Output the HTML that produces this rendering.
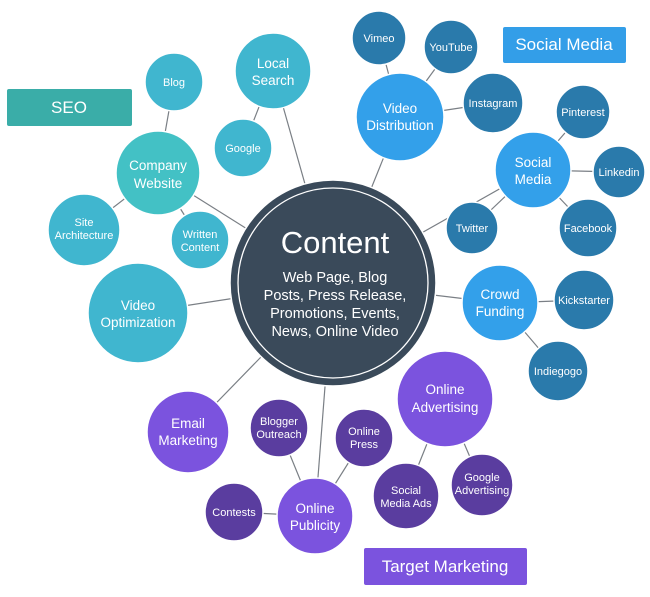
<!DOCTYPE html>
<html><head><style>
body{margin:0;background:#fff}
svg text{font-family:"Liberation Sans",sans-serif;fill:#fff;text-anchor:middle}
</style></head><body>
<svg width="650" height="592" viewBox="0 0 650 592" xmlns="http://www.w3.org/2000/svg">
<g stroke="#7a7f85" stroke-width="1.2">
<line x1="333" y1="283" x2="273" y2="71"/>
<line x1="174" y1="82" x2="158" y2="173"/>
<line x1="243" y1="148" x2="273" y2="71"/>
<line x1="158" y1="173" x2="333" y2="283"/>
<line x1="84" y1="230" x2="158" y2="173"/>
<line x1="200" y1="240" x2="158" y2="173"/>
<line x1="138" y1="313" x2="333" y2="283"/>
<line x1="379" y1="38" x2="400" y2="117"/>
<line x1="451" y1="47" x2="400" y2="117"/>
<line x1="493" y1="103" x2="400" y2="117"/>
<line x1="400" y1="117" x2="333" y2="283"/>
<line x1="583" y1="112" x2="533" y2="170"/>
<line x1="619" y1="172" x2="533" y2="170"/>
<line x1="588" y1="228" x2="533" y2="170"/>
<line x1="472" y1="228" x2="533" y2="170"/>
<line x1="533" y1="170" x2="333" y2="283"/>
<line x1="500" y1="303" x2="333" y2="283"/>
<line x1="584" y1="300" x2="500" y2="303"/>
<line x1="558" y1="371" x2="500" y2="303"/>
<line x1="188" y1="432" x2="333" y2="283"/>
<line x1="315" y1="516" x2="333" y2="283"/>
<line x1="279" y1="428" x2="315" y2="516"/>
<line x1="364" y1="438" x2="315" y2="516"/>
<line x1="234" y1="512" x2="315" y2="516"/>
<line x1="406" y1="496" x2="445" y2="399"/>
<line x1="482" y1="485" x2="445" y2="399"/>
</g>
<g stroke="#fff" stroke-width="1.5">
<circle cx="333" cy="283" r="103" fill="#3a4a5a"/>
<circle cx="333" cy="283" r="95" fill="none" stroke-width="1.3"/>
<circle cx="273" cy="71" r="38" fill="#40b6cf"/>
<circle cx="174" cy="82" r="29" fill="#40b6cf"/>
<circle cx="243" cy="148" r="29" fill="#40b6cf"/>
<circle cx="158" cy="173" r="42" fill="#43c1c5"/>
<circle cx="84" cy="230" r="36" fill="#40b6cf"/>
<circle cx="200" cy="240" r="29" fill="#40b6cf"/>
<circle cx="138" cy="313" r="50" fill="#40b6cf"/>
<circle cx="379" cy="38" r="27" fill="#2a7aab"/>
<circle cx="451" cy="47" r="27" fill="#2a7aab"/>
<circle cx="400" cy="117" r="44" fill="#33a0ea"/>
<circle cx="493" cy="103" r="30" fill="#2a7aab"/>
<circle cx="583" cy="112" r="27" fill="#2a7aab"/>
<circle cx="533" cy="170" r="38" fill="#33a0ea"/>
<circle cx="619" cy="172" r="26" fill="#2a7aab"/>
<circle cx="472" cy="228" r="26" fill="#2a7aab"/>
<circle cx="588" cy="228" r="29" fill="#2a7aab"/>
<circle cx="500" cy="303" r="38" fill="#33a0ea"/>
<circle cx="584" cy="300" r="30" fill="#2a7aab"/>
<circle cx="558" cy="371" r="30" fill="#2a7aab"/>
<circle cx="188" cy="432" r="41" fill="#7b53de"/>
<circle cx="279" cy="428" r="29" fill="#5a3d9f"/>
<circle cx="364" cy="438" r="29" fill="#5a3d9f"/>
<circle cx="445" cy="399" r="48" fill="#7b53de"/>
<circle cx="234" cy="512" r="29" fill="#5a3d9f"/>
<circle cx="315" cy="516" r="38" fill="#7b53de"/>
<circle cx="406" cy="496" r="33" fill="#5a3d9f"/>
<circle cx="482" cy="485" r="31" fill="#5a3d9f"/>
</g>
<rect x="7" y="89" width="125" height="37" rx="2" fill="#3aada8"/>
<rect x="503" y="27" width="123" height="36" rx="2" fill="#339ee8"/>
<rect x="364" y="548" width="163" height="37" rx="2" fill="#7b53de"/>
<text x="69" y="113" font-size="17">SEO</text>
<text x="564" y="50" font-size="17">Social Media</text>
<text x="445" y="572" font-size="17">Target Marketing</text>

<text x="335" y="253" font-size="31">Content</text>
<g font-size="14.5">
<text x="335" y="282">Web Page, Blog</text>
<text x="335" y="300">Posts, Press Release,</text>
<text x="335" y="318">Promotions, Events,</text>
<text x="335" y="336">News, Online Video</text>
</g>
<g font-size="13.5">
<text x="273" y="68">Local</text><text x="273" y="85">Search</text>
<text x="158" y="170">Company</text><text x="158" y="188">Website</text>
<text x="138" y="310">Video</text><text x="138" y="327">Optimization</text>
<text x="400" y="113">Video</text><text x="400" y="130">Distribution</text>
<text x="533" y="167">Social</text><text x="533" y="184">Media</text>
<text x="500" y="299">Crowd</text><text x="500" y="316">Funding</text>
<text x="188" y="428">Email</text><text x="188" y="445">Marketing</text>
<text x="445" y="394">Online</text><text x="445" y="412">Advertising</text>
<text x="315" y="513">Online</text><text x="315" y="530">Publicity</text>
</g>
<g font-size="11">
<text x="174" y="86">Blog</text>
<text x="243" y="152">Google</text>
<text x="84" y="226">Site</text><text x="84" y="239">Architecture</text>
<text x="200" y="238">Written</text><text x="200" y="251">Content</text>
<text x="379" y="42">Vimeo</text>
<text x="451" y="51">YouTube</text>
<text x="493" y="107">Instagram</text>
<text x="583" y="116">Pinterest</text>
<text x="619" y="176">Linkedin</text>
<text x="472" y="232">Twitter</text>
<text x="588" y="232">Facebook</text>
<text x="584" y="304">Kickstarter</text>
<text x="558" y="375">Indiegogo</text>
<text x="279" y="425">Blogger</text><text x="279" y="438">Outreach</text>
<text x="364" y="435">Online</text><text x="364" y="448">Press</text>
<text x="234" y="516">Contests</text>
<text x="406" y="494">Social</text><text x="406" y="507">Media Ads</text>
<text x="482" y="481">Google</text><text x="482" y="494">Advertising</text>
</g>
</svg>
</body></html>
